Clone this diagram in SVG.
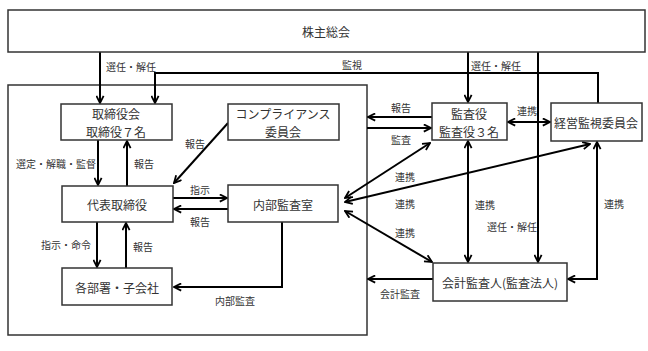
<svg xmlns="http://www.w3.org/2000/svg" width="648" height="351" viewBox="0 0 648 351">
<defs>
<marker id="ah" viewBox="0 0 10 10" refX="9" refY="5" markerWidth="9" markerHeight="9" markerUnits="userSpaceOnUse" orient="auto-start-reverse">
<path d="M1,1 L9,5 L1,9" fill="none" stroke="#000" stroke-width="2"/>
</marker>
<style>
.box{fill:#fff;stroke:#333;stroke-width:1.5}
.frame{fill:none;stroke:#333;stroke-width:1.5}
.t{font-family:"Noto Sans CJK JP","Noto Sans",sans-serif;font-size:12px;fill:#333;text-anchor:middle;dominant-baseline:central}
.l{font-family:"Noto Sans CJK JP","Noto Sans",sans-serif;font-size:10px;fill:#333;text-anchor:middle;dominant-baseline:central}
.c{fill:none;stroke:#000;stroke-width:2}
.e{marker-end:url(#ah)}
.b{marker-start:url(#ah);marker-end:url(#ah)}
</style>
</defs>
<rect width="648" height="351" fill="#fff"/>
<rect class="frame" x="8" y="85" width="359" height="250"/>
<g id="connectors">
<path class="c e" d="M100,52 V103"/>
<path class="c e" d="M598,103 V73 H155 V103"/>
<path class="c e" d="M468,52 V102"/>
<path class="c e" d="M538,52 V262"/>
<path class="c e" d="M98,140 V185"/>
<path class="c e" d="M127,186 V141"/>
<path class="c e" d="M97,222 V267"/>
<path class="c e" d="M126,268 V223"/>
<path class="c e" d="M228,123 L174,183"/>
<path class="c e" d="M173,198 H227"/>
<path class="c e" d="M228,209 H174"/>
<path class="c e" d="M282,222 V287 H174"/>
<path class="c e" d="M432,117 H368"/>
<path class="c e" d="M367,128 H431"/>
<path class="c e" d="M433,279 H368"/>
<path class="c b" d="M508,122 H550"/>
<path class="c b" d="M468,141 V262"/>
<path class="c b" d="M597,142 V279 H568"/>
<path class="c b" d="M345,198 L430,143"/>
<path class="c b" d="M345,202 L590,144"/>
<path class="c b" d="M345,211 L432,262"/>
</g>
<g id="labels">
<text class="l" x="131" y="66">選任・解任</text>
<text class="l" x="352" y="64">監視</text>
<text class="l" x="496" y="65">選任・解任</text>
<text class="l" x="56" y="163">選定・解職・監督</text>
<text class="l" x="144" y="163">報告</text>
<text class="l" x="195" y="143">報告</text>
<text class="l" x="200" y="189">指示</text>
<text class="l" x="200" y="221">報告</text>
<text class="l" x="66" y="244">指示・命令</text>
<text class="l" x="143" y="246">報告</text>
<text class="l" x="235" y="300">内部監査</text>
<text class="l" x="401" y="107">報告</text>
<text class="l" x="401" y="139">監査</text>
<text class="l" x="527" y="110">連携</text>
<text class="l" x="405" y="176">連携</text>
<text class="l" x="405" y="203">連携</text>
<text class="l" x="405" y="232">連携</text>
<text class="l" x="485" y="204">連携</text>
<text class="l" x="512" y="226">選任・解任</text>
<text class="l" x="614" y="203">連携</text>
<text class="l" x="400" y="293">会計監査</text>
</g>
<g id="shareholders"><rect class="box" x="8" y="10" width="637" height="42"/><text class="t" x="326" y="31">株主総会</text></g>
<g id="board"><rect class="box" x="61" y="104" width="111" height="36"/><text class="t" x="116" y="113">取締役会</text><text class="t" x="116" y="131">取締役７名</text></g>
<g id="compliance"><rect class="box" x="228" y="104" width="111" height="36"/><text class="t" x="283" y="113">コンプライアンス</text><text class="t" x="283" y="131">委員会</text></g>
<g id="ceo"><rect class="box" x="62" y="186" width="111" height="36"/><text class="t" x="117" y="204">代表取締役</text></g>
<g id="internal-audit"><rect class="box" x="228" y="185" width="110" height="37"/><text class="t" x="283" y="204">内部監査室</text></g>
<g id="departments"><rect class="box" x="62" y="268" width="110" height="37"/><text class="t" x="117" y="287">各部署・子会社</text></g>
<g id="auditors"><rect class="box" x="432" y="103" width="75" height="37"/><text class="t" x="469" y="113">監査役</text><text class="t" x="469" y="131">監査役３名</text></g>
<g id="oversight"><rect class="box" x="551" y="103" width="91" height="38"/><text class="t" x="596" y="122">経営監視委員会</text></g>
<g id="accounting-auditor"><rect class="box" x="433" y="263" width="134" height="38"/><text class="t" x="500" y="282">会計監査人(監査法人)</text></g>
</svg>
